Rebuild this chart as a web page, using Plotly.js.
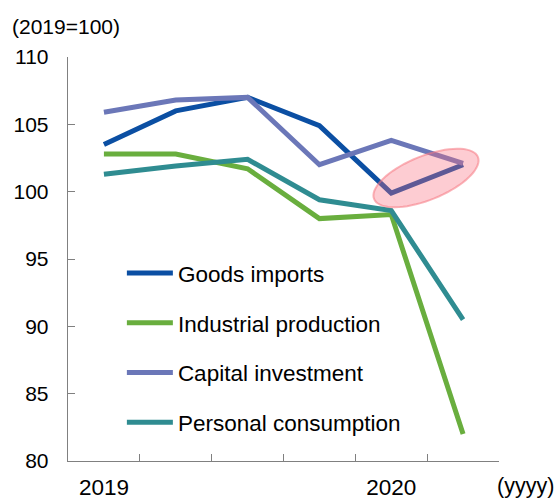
<!DOCTYPE html>
<html>
<head>
<meta charset="utf-8">
<script src="https://cdn.plot.ly/plotly-3.0.1.min.js"></script>
<style>html,body{margin:0;padding:0;background:#fff;}#chart{width:557px;height:501px;}</style>
</head>
<body>
<div id="chart"></div>
<script>
// Data
const quarters = ['2019Q1', '2019Q2', '2019Q3', '2019Q4', '2020Q1', '2020Q2'];
const tickLabels = ['2019', '', '', '', '2020', ''];
const goodsImports = [103.5, 106.0, 107.0, 104.9, 99.9, 102.0];
const industrialProduction = [102.8, 102.8, 101.7, 98.0, 98.3, 82.0];
const capitalInvestment = [105.9, 106.8, 107.0, 102.0, 103.8, 102.1];
const personalConsumption = [101.3, 101.9, 102.4, 99.4, 98.6, 90.5];
const seriesNames = ['Goods imports', 'Industrial production', 'Capital investment', 'Personal consumption'];
const seriesColors = ['#0b4fa3', '#69ae3e', '#6b77b8', '#2f8c91'];

const FONT = 'Liberation Sans, Arial, sans-serif';
const allSeries = [goodsImports, industrialProduction, capitalInvestment, personalConsumption];
const traces = allSeries.map((vals, i) => ({
  type: 'scatter', mode: 'lines', x: quarters, y: vals, name: seriesNames[i],
  legendgroup: 'g' + i,
  line: {color: seriesColors[i], width: 5}
}));

// Plot geometry (pixels) used to convert the highlight ellipse to paper coords
const W = 557, H = 501;
const margin = {l: 68, r: 58, t: 57, b: 40};
const pw = W - margin.l - margin.r, ph = H - margin.t - margin.b;
function ellipsePath(cx, cy, a, b, deg) {
  const th = deg * Math.PI / 180;
  let d = '';
  for (let k = 0; k <= 72; k++) {
    const t = 2 * Math.PI * k / 72;
    const px = cx + a * Math.cos(t) * Math.cos(th) - b * Math.sin(t) * Math.sin(th);
    const py = cy + a * Math.cos(t) * Math.sin(th) + b * Math.sin(t) * Math.cos(th);
    const xp = (px - margin.l) / pw, yp = (H - margin.b - py) / ph;
    d += (k === 0 ? 'M' : 'L') + xp.toFixed(4) + ',' + yp.toFixed(4);
  }
  return d + 'Z';
}

const layout = {
  width: W, height: H,
  margin: margin,
  paper_bgcolor: '#ffffff', plot_bgcolor: '#ffffff',
  font: {family: FONT, size: 21, color: '#000'},
  showlegend: true,
  legend: {
    x: 0.125, y: 0.5176, xanchor: 'left', yanchor: 'top',
    bgcolor: 'rgba(0,0,0,0)', font: {family: FONT, size: 22.5, color: '#000'},
    traceorder: 'grouped', tracegroupgap: 17.5, itemwidth: 46
  },
  xaxis: {
    type: 'category', categoryorder: 'array', categoryarray: quarters,
    range: [-0.5, 5.5], tickvals: quarters, ticktext: tickLabels,
    tickson: 'boundaries', ticks: 'inside', ticklen: 7, tickcolor: '#808080',
    showline: true, linecolor: '#808080', linewidth: 1.3, showgrid: false, zeroline: false,
    tickfont: {family: FONT, size: 22.5, color: '#000'}, ticklabelstandoff: 6, fixedrange: true
  },
  yaxis: {
    range: [80, 110], dtick: 5, tick0: 80, ticks: 'inside', ticklen: 7, tickcolor: '#808080',
    showline: true, linecolor: '#808080', linewidth: 1.3, showgrid: false, zeroline: false,
    tickfont: {family: FONT, size: 21, color: '#000'}, ticklabelstandoff: 14, fixedrange: true
  },
  shapes: [{
    type: 'path', xref: 'paper', yref: 'paper', layer: 'above',
    path: ellipsePath(426, 178, 56, 22, -22),
    fillcolor: 'rgba(250,110,125,0.35)', line: {color: 'rgba(245,120,130,0.55)', width: 2}
  }],
  annotations: [
    {xref: 'paper', yref: 'paper', x: -58 / pw, y: (H - margin.b - 27) / ph, xanchor: 'left', yanchor: 'middle',
     text: '(2019=100)', showarrow: false, font: {family: FONT, size: 21, color: '#000'}},
    {xref: 'paper', yref: 'paper', x: -4 / pw + 1.0, y: -25 / ph, xanchor: 'left', yanchor: 'middle',
     text: '(yyyy)', showarrow: false, font: {family: FONT, size: 21.5, color: '#000'}}
  ]
};

Plotly.newPlot('chart', traces, layout, {displayModeBar: false, staticPlot: true});
</script>
</body>
</html>
